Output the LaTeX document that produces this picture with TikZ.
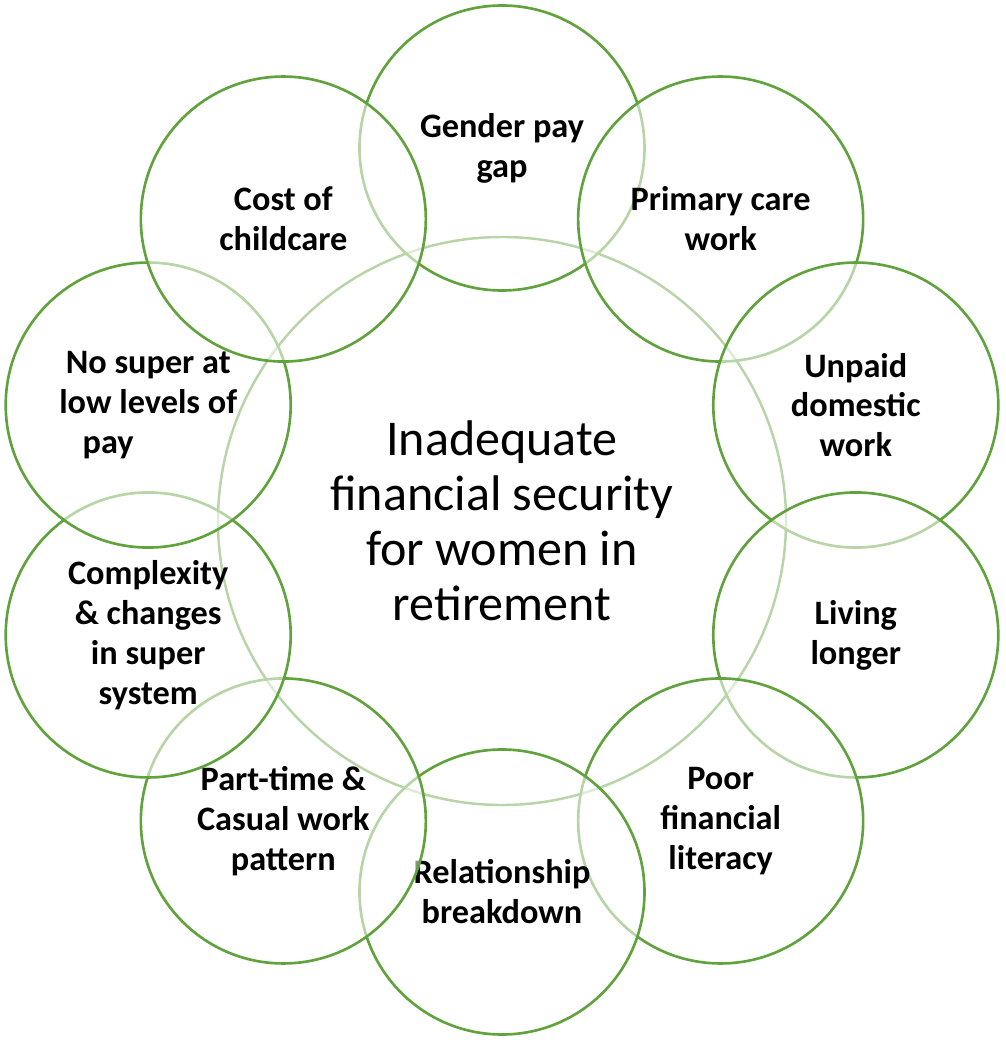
\documentclass[tikz,border=0pt]{standalone}
\usepackage{fontspec}
\setmainfont{Carlito}
\definecolor{leafgreen}{RGB}{96,162,60}

\begin{document}
\begin{tikzpicture}[
  core/.style={draw=leafgreen, line width=1.4pt, circle, minimum size=11.36cm, inner sep=0pt, align=center, font=\fontsize{28.5}{31.3}\selectfont},
  factor/.style={draw=leafgreen, line width=1.5pt, circle, minimum size=5.7cm, inner sep=0pt, align=center, fill=white, fill opacity=0.55, text opacity=1, font=\bfseries\fontsize{19.5}{22.7}\selectfont}
]
  \useasboundingbox (-10.04,-10.44) rectangle (10.08,10.40);

  \node[core] (security) at (0,-0.02) {Inadequate\\financial security\\for women in\\retirement};

  % clockwise from the top, each circle lies over the one before
  \node[factor] (paygap) at (90:7.44) {Gender pay\\gap};
  \node[factor] (carework) at (54:7.44) {Primary care\\work};
  \node[factor] (domestic) at (18:7.44) {Unpaid\\domestic\\work};
  \node[factor] (longer) at (-18:7.44) {Living\\longer};
  \node[factor] (literacy) at (-54:7.44) {Poor\\financial\\literacy};
  \node[factor] (breakdown) at (-90:7.44) {Relationship\\breakdown};
  \node[factor] (parttime) at (-126:7.44) {Part-time \&\\Casual work\\pattern};
  \node[factor] (complexity) at (-162:7.44) {Complexity\\\& changes\\in super\\system};
  \node[factor] (nosuper) at (162:7.44) {No super at\\low levels of\\pay\hspace*{1.6cm}};
  \node[factor] (childcare) at (126:7.44) {Cost of\\childcare};

\end{tikzpicture}
\end{document}
